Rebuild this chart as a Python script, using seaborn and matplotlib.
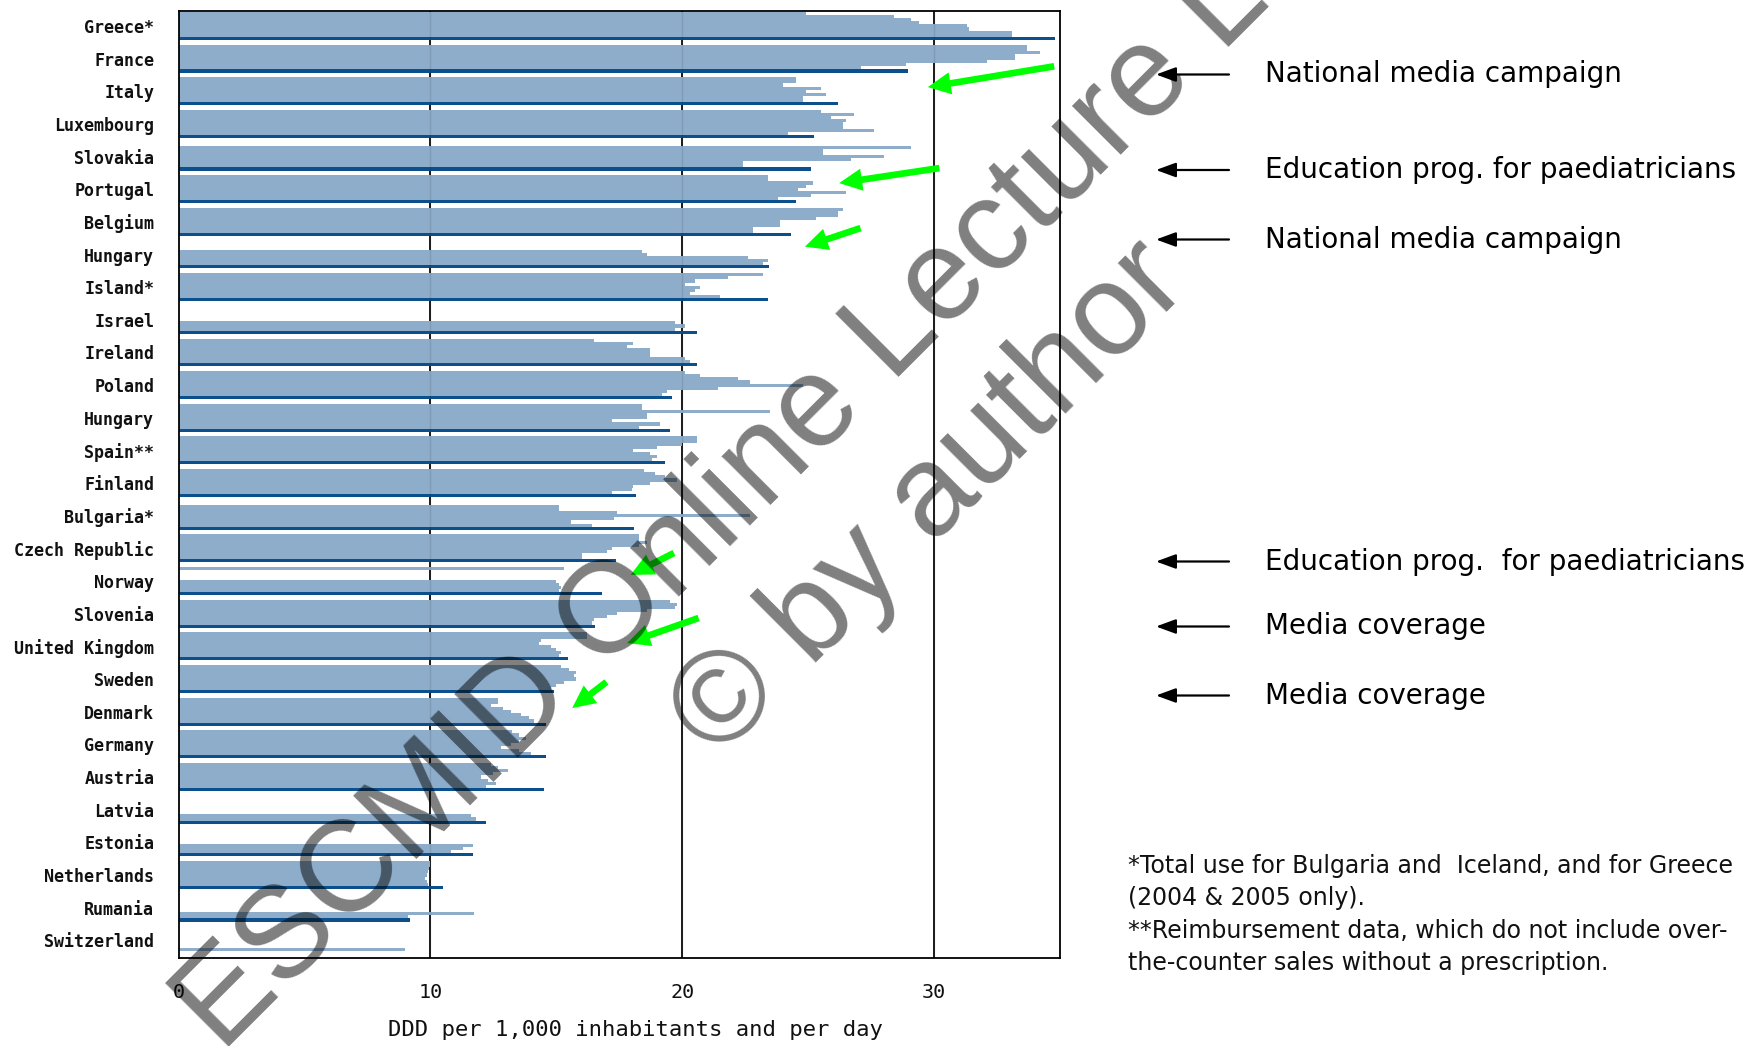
import numpy as np
import pandas as pd
import matplotlib
matplotlib.use("Agg")
import matplotlib.pyplot as plt
from matplotlib.ticker import FixedLocator
import seaborn as sns

nan = np.nan

# Countries, top to bottom (ranked by the latest available year)
countries = ["Greece*", "France", "Italy", "Luxembourg", "Slovakia", "Portugal",
             "Belgium", "Hungary", "Island*", "Israel", "Ireland", "Poland",
             "Hungary", "Spain**", "Finland", "Bulgaria*", "Czech Republic",
             "Norway", "Slovenia", "United Kingdom", "Sweden", "Denmark",
             "Germany", "Austria", "Latvia", "Estonia", "Netherlands",
             "Rumania", "Switzerland"]

years = ["1997", "1998", "1999", "2000", "2001", "2002", "2003", "2004", "2005"]

# Outpatient antibiotic use, DDD per 1,000 inhabitants and per day
ddd_1997 = [24.9, 33.7, 24.5, 25.5, nan, 23.4, 26.4, nan, 23.2, nan, 16.5, 20.1,
            18.4, 20.6, 18.5, nan, 18.3, 15.3, 19.5, 16.2, 15.2, 12.7, 13.25,
            12.4, nan, nan, 10.0, nan, nan]
ddd_1998 = [28.4, 33.7, 24.5, 26.8, 29.1, 23.4, 26.2, nan, 21.8, nan, 18.05, 20.7,
            18.4, 20.6, 18.9, 15.1, 18.3, nan, 19.8, 16.2, 15.5, 12.7, 13.5,
            12.7, nan, nan, 10.0, nan, nan]
ddd_1999 = [29.1, 34.2, 24.0, 25.9, 25.6, 25.2, 26.2, nan, 20.5, nan, 17.8, 22.2,
            23.5, 20.0, 19.3, 15.1, 18.6, nan, 19.7, 14.4, 15.8, 12.4, 13.8,
            13.1, nan, nan, 9.95, nan, nan]
ddd_2000 = [29.4, 33.2, 25.5, 26.5, 25.6, 24.9, 25.3, 18.4, 20.1, nan, 18.7, 22.7,
            18.6, 19.0, 19.8, 17.4, 18.3, nan, 18.6, 14.3, 15.7, 12.9, 13.5,
            12.5, nan, nan, 9.9, nan, nan]
ddd_2001 = [31.3, 33.2, 24.9, 26.4, 28.0, 24.6, 23.9, 18.6, 20.7, nan, 18.7, 24.8,
            18.6, 18.05, 18.7, 22.7, 17.2, 15.0, 17.4, 14.8, 15.8, 13.2, 13.2,
            12.0, nan, nan, 9.85, nan, nan]
ddd_2002 = [31.4, 32.1, 25.7, 26.4, 26.7, 26.5, 23.9, 22.6, 20.5, 19.7, 18.7, 21.4,
            17.2, 18.7, 18.05, 17.3, 17.0, 15.1, 17.0, 15.0, 15.3, 13.6, 12.8,
            12.3, nan, 11.7, 9.8, nan, nan]
ddd_2003 = [33.1, 28.9, 24.8, 27.6, 22.4, 25.1, 22.8, 23.4, 20.3, 20.1, 20.1, 19.4,
            19.1, 19.0, 18.0, 15.6, 16.0, 15.2, 16.5, 15.2, 15.0, 13.9, 13.5,
            12.6, 11.6, 11.3, 9.85, 11.75, nan]
ddd_2004 = [33.1, 27.1, 24.8, 24.2, 22.4, 23.8, 22.8, 23.2, 21.5, 19.7, 20.3, 19.2,
            18.3, 18.8, 17.2, 16.4, 16.0, 15.1, 16.4, 15.1, 14.8, 14.1, 14.0,
            12.2, 11.8, 10.8, 9.9, 9.1, 9.0]
ddd_2005 = [34.8, 28.95, 26.2, 25.25, 25.1, 24.5, 24.3, 23.45, 23.4, 20.6, 20.6,
            19.6, 19.5, 19.3, 18.15, 18.1, 17.35, 16.8, 16.55, 15.45, 14.9, 14.6,
            14.6, 14.5, 12.2, 11.7, 10.5, 9.2, nan]

series = [ddd_1997, ddd_1998, ddd_1999, ddd_2000, ddd_2001,
          ddd_2002, ddd_2003, ddd_2004, ddd_2005]

records = []
for yr, vals in zip(years, series):
    for row, v in enumerate(vals):
        if not np.isnan(v):
            records.append({"row": row, "year": yr, "ddd": v})
df = pd.DataFrame(records)

LIGHT = "#8dadcb"
DARK = "#0b4f8c"
palette = [LIGHT] * 8 + [DARK]

sns.set_style("white")
plt.rcParams["font.family"] = ["DejaVu Sans"]

fig = plt.figure(figsize=(17.52, 10.46), dpi=100)
W, H = 1752.0, 1046.0
ax = fig.add_axes([178.6 / W, 1 - 958 / H, (1060 - 178.6) / W, (958 - 11) / H])

# reference lines behind the bars
for gx in (10, 20, 30):
    ax.axvline(gx, color="#1a1a1a", lw=1.4, zorder=0.5)

sns.barplot(data=df, x="ddd", y="row", hue="year", order=list(range(len(countries))),
            hue_order=years, palette=palette, orient="h", width=0.855, gap=0,
            dodge=True, saturation=1, errorbar=None, legend=False, linewidth=0,
            ax=ax)

# faint trace of the grid lines across the bars
for gx in (10, 20, 30):
    ax.axvline(gx, color="#1a1a1a", lw=1.0, alpha=0.12, zorder=3)

shift = 0.0425
n = len(countries)
ax.set_xlim(0, 35)
ax.set_ylim(n - 0.5 + shift, -0.5 + shift)

mono = "DejaVu Sans Mono"
ax.set_yticks(range(n))
ax.set_yticklabels(countries, family=mono, fontsize=12, fontweight="bold", color="#111111")
ax.yaxis.set_minor_locator(FixedLocator(np.arange(n + 1) - 0.5 + shift))
ax.tick_params(axis="y", which="major", length=0, pad=17.5)
ax.tick_params(axis="y", which="minor", length=4, width=1.2, color="black", direction="out")

ax.set_xticks([0, 10, 20, 30])
ax.set_xticklabels(["0", "10", "20", "30"], family=mono, fontsize=14.5, color="#111111")
ax.xaxis.set_minor_locator(FixedLocator([5, 15, 25]))
ax.tick_params(axis="x", which="both", length=6, width=1.2, color="black",
               direction="out", pad=12)
ax.tick_params(axis="x", which="minor", length=5)

ax.set_xlabel("DDD per 1,000 inhabitants and per day", family=mono, fontsize=16,
              color="#111111")
ax.xaxis.set_label_coords((635.5 - 178.6) / 881.4, (958 - 1030) / 947.0)
ax.xaxis.label.set_va("center")
ax.set_ylabel("")

for sp in ax.spines.values():
    sp.set_visible(True)
    sp.set_color("black")
    sp.set_linewidth(1.3)

# green arrows marking the interventions
green_arrows = [
    ((34.77, 1.236), (29.75, 1.873)),
    ((30.21, 4.353), (26.23, 4.813)),
    ((27.08, 6.190), (24.87, 6.760)),
    ((19.67, 16.14), (17.95, 16.81)),
    ((20.65, 18.13), (17.81, 18.90)),
    ((16.99, 20.09), (15.63, 20.89)),
]
for tail, head in green_arrows:
    ax.annotate("", xy=head, xytext=tail, xycoords="data", textcoords="data",
                annotation_clip=False, zorder=6,
                arrowprops=dict(arrowstyle="simple,head_length=1.65,head_width=1.6,tail_width=0.48",
                                mutation_scale=10, color="#00ff00", lw=0,
                                shrinkA=0, shrinkB=0))

# interventions listed at the right
notes = [
    (74.5, "National media campaign"),
    (170.0, "Education prog. for paediatricians"),
    (239.5, "National media campaign"),
    (561.5, "Education prog.  for paediatricians"),
    (626.5, "Media coverage"),
    (695.5, "Media coverage"),
]
for py, label in notes:
    fy = 1 - py / H
    ax.annotate("", xy=(1156 / W, fy), xytext=(1229 / W, fy),
                xycoords="figure fraction", textcoords="figure fraction",
                annotation_clip=False,
                arrowprops=dict(arrowstyle="-|>,head_length=0.6,head_width=0.22",
                                mutation_scale=20, color="black", lw=1.6,
                                shrinkA=0, shrinkB=0))
    fig.text(1265 / W, fy, label, fontsize=20, color="black", ha="left", va="center",
             family="DejaVu Sans")

footnotes = [
    (866, "*Total use for Bulgaria and  Iceland, and for Greece"),
    (898, "(2004 & 2005 only)."),
    (931, "**Reimbursement data, which do not include over-"),
    (963, "the-counter sales without a prescription."),
]
for py, line in footnotes:
    fig.text(1128.5 / W, 1 - py / H, line, fontsize=17, color="#111111",
             ha="left", va="center", family="DejaVu Sans")

# watermark
fig.text(838 / W, 1 - 391 / H, "ESCMID Online Lecture Library", fontsize=93,
         family="Liberation Sans", color="black", alpha=0.5, rotation=45,
         rotation_mode="anchor", ha="center", va="center", zorder=10)
fig.text(931 / W, 1 - 500 / H, "\u00a9 by author", fontsize=93,
         family="Liberation Sans", color="black", alpha=0.5, rotation=45,
         rotation_mode="anchor", ha="center", va="center", zorder=10)

fig.savefig("out.png", dpi=100)
